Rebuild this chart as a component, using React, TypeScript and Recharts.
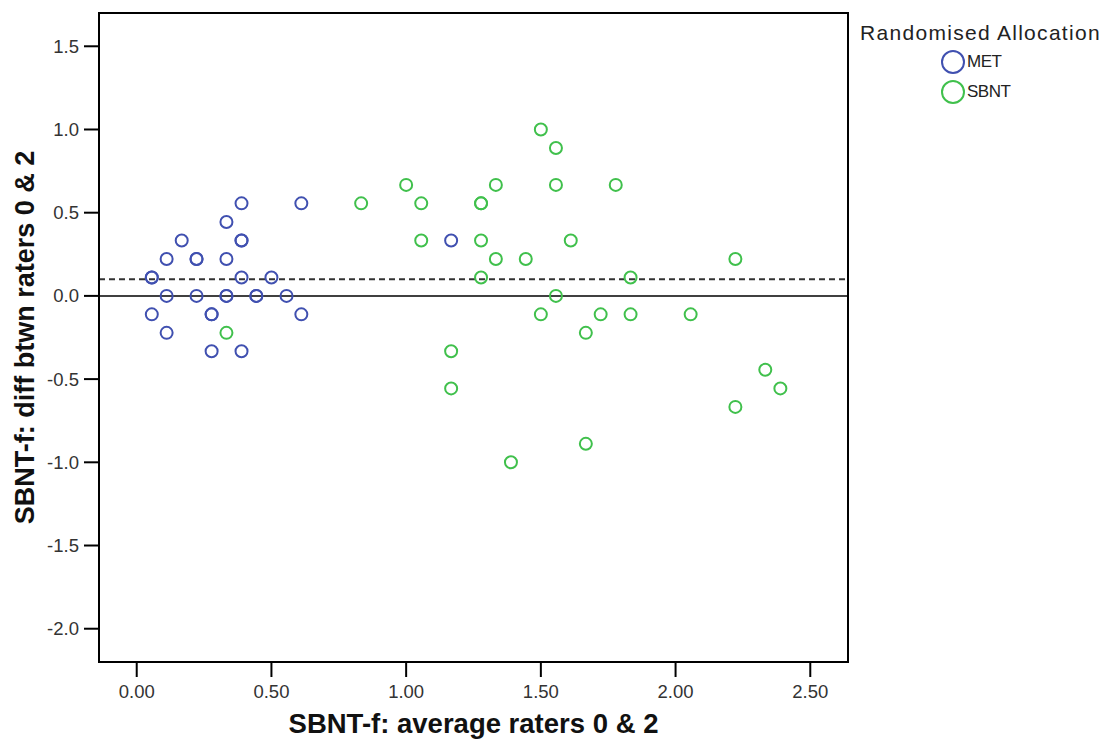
import React from "react"
import { ScatterChart, Scatter, XAxis, YAxis, ReferenceLine, ReferenceArea } from "recharts"

// average raters 0 & 2 (x) and difference between raters 0 & 2 (y)
const metAvg = [0.056, 0.056, 0.111, 0.167, 0.222, 0.222, 0.333, 0.389, 0.389, 0.389, 0.333, 0.389, 0.5, 0.611, 0.111, 0.222, 0.333, 0.333, 0.444, 0.444, 0.556, 0.056, 0.278, 0.278, 0.611, 0.111, 0.278, 0.389, 1.167]
const metDiff = [0.111, 0.111, 0.222, 0.333, 0.222, 0.222, 0.444, 0.556, 0.333, 0.333, 0.222, 0.111, 0.111, 0.556, 0, 0, 0, 0, 0, 0, 0, -0.111, -0.111, -0.111, -0.111, -0.222, -0.333, -0.333, 0.333]

const sbntAvg = [1.5, 1.556, 1.0, 1.333, 1.556, 1.778, 0.833, 1.056, 1.278, 1.278, 1.056, 1.278, 1.611, 1.333, 1.444, 1.278, 1.833, 1.556, 1.5, 1.722, 1.833, 1.667, 1.167, 1.167, 1.667, 1.389, 2.222, 2.056, 2.333, 2.389, 2.222, 0.333]
const sbntDiff = [1.0, 0.889, 0.667, 0.667, 0.667, 0.667, 0.556, 0.556, 0.556, 0.556, 0.333, 0.333, 0.333, 0.222, 0.222, 0.111, 0.111, 0, -0.111, -0.111, -0.111, -0.222, -0.333, -0.556, -0.889, -1.0, 0.222, -0.111, -0.444, -0.556, -0.667, -0.222]

const xTicks = [0, 0.5, 1, 1.5, 2, 2.5]
const yTicks = [-2, -1.5, -1, -0.5, 0, 0.5, 1, 1.5]
const meanDiff = 0.1

const groups = ["MET", "SBNT"]
const groupColors = ["#4050b0", "#40c04c"]

const metData = metAvg.map((x, i) => ({ avg: x, diff: metDiff[i] }))
const sbntData = sbntAvg.map((x, i) => ({ avg: x, diff: sbntDiff[i] }))

const font = "'Liberation Sans', Arial, sans-serif"

const ring = (color: string) => (props: any) => (
  <circle cx={props.cx} cy={props.cy} r={6} fill="none" stroke={color} strokeWidth={2} />
)

const LegendBox = () => (
  <div style={{ position: "absolute", left: 860, top: 19, fontFamily: font, color: "#222" }}>
    <div style={{ fontSize: 21, lineHeight: "28px", whiteSpace: "nowrap", letterSpacing: 1.3 }}>Randomised Allocation</div>
    {groups.map((g, i) => (
      <div key={g} style={{ display: "flex", alignItems: "center", marginLeft: 80, height: 30 }}>
        <svg width={26} height={26}>
          <circle cx={13} cy={13} r={11} fill="none" stroke={groupColors[i]} strokeWidth={2} />
        </svg>
        <span style={{ fontSize: 17, marginLeft: 1, letterSpacing: -0.5 }}>{g}</span>
      </div>
    ))}
  </div>
)

export default function App() {
  return (
    <div style={{ position: "absolute", left: 0, top: 0, width: 1113, height: 740, background: "#fff" }}>
      <ScatterChart width={1113} height={740} margin={{ top: 13, right: 265, left: 29, bottom: 8 }}>
        <XAxis
          type="number"
          dataKey="avg"
          domain={[-0.14, 2.64]}
          ticks={xTicks}
          tickFormatter={(v: number) => v.toFixed(2)}
          tickSize={15}
          tickMargin={8}
          height={70}
          stroke="#000"
          strokeWidth={2}
          tick={{ fill: "#333", fontSize: 18.5, fontFamily: font }}
          label={{ value: "SBNT-f: average raters 0 & 2", position: "insideBottom", offset: -1, fill: "#111", fontSize: 27.5, fontWeight: "bold", fontFamily: font }}
        />
        <YAxis
          type="number"
          dataKey="diff"
          domain={[-2.2, 1.7]}
          ticks={yTicks}
          tickFormatter={(v: number) => v.toFixed(1)}
          tickSize={15}
          tickMargin={5}
          width={70}
          stroke="#000"
          strokeWidth={2}
          tick={{ fill: "#333", fontSize: 18.5, fontFamily: font }}
          label={{ value: "SBNT-f: diff btwn raters 0 & 2", angle: -90, position: "insideLeft", offset: -5, fill: "#111", fontSize: 27, fontWeight: "bold", fontFamily: font, style: { textAnchor: "middle" } }}
        />
        <ReferenceArea x1={-0.14} x2={2.64} y1={-2.2} y2={1.7} fill="none" stroke="#000" strokeWidth={2} />
        <ReferenceLine y={0} stroke="#000" strokeWidth={1.5} />
        <ReferenceLine y={meanDiff} stroke="#333" strokeWidth={2} strokeDasharray="6 4" />
        <Scatter name="MET" data={metData} shape={ring(groupColors[0])} isAnimationActive={false} />
        <Scatter name="SBNT" data={sbntData} shape={ring(groupColors[1])} isAnimationActive={false} />
      </ScatterChart>
      <LegendBox />
    </div>
  )
}
